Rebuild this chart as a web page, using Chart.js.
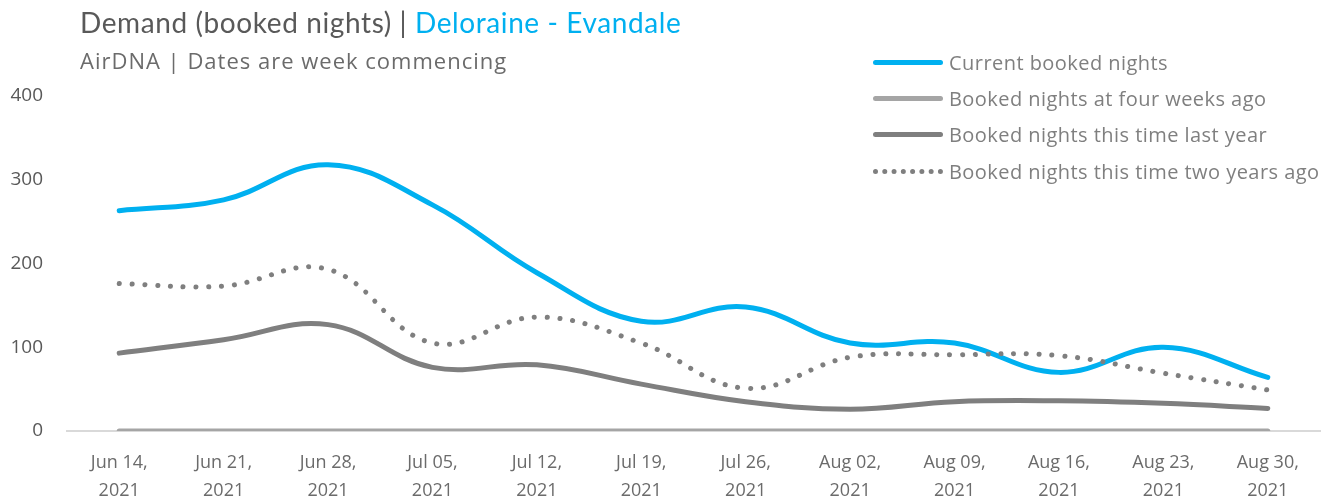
<!DOCTYPE html>
<html>
<head>
<meta charset="utf-8">
<script src="https://cdn.jsdelivr.net/npm/chart.js@4"></script>
<style>
  body { margin: 0; background: #fff; font-family: "Open Sans", Lato, sans-serif; }
  #wrap { position: relative; width: 1336px; height: 502px; }
  #title { position: absolute; left: 80px; top: 5px; font-family: Lato, sans-serif; font-size: 28px; color: #595959; letter-spacing: 0.6px; white-space: nowrap; }
  #title span { color: #00B0F0; }
  #sub { position: absolute; left: 80px; top: 45px; font-size: 22px; color: #6b6b6b; letter-spacing: 1px; white-space: nowrap; }
  #legend { position: absolute; left: 873px; top: 44px; }
  .item { height: 36.3px; display: flex; align-items: center; font-size: 20px; letter-spacing: 0.45px; color: #7f7f7f; white-space: nowrap; }
  .sw { width: 70px; height: 0; margin-right: 6px; border-top: 5px solid; border-radius: 3px; }
</style>
</head>
<body>
<div id="wrap">
  <canvas id="chart1" width="1336" height="502"></canvas>
  <div id="title">Demand (booked nights) | <span>Deloraine - Evandale</span></div>
  <div id="sub">AirDNA | Dates are week commencing</div>
  <div id="legend"></div>
</div>
<script>
const weeks = [['Jun 14,','2021'],['Jun 21,','2021'],['Jun 28,','2021'],['Jul 05,','2021'],['Jul 12,','2021'],['Jul 19,','2021'],
  ['Jul 26,','2021'],['Aug 02,','2021'],['Aug 09,','2021'],['Aug 16,','2021'],['Aug 23,','2021'],['Aug 30,','2021']];
const current = [263, 276, 318, 270, 189, 131, 148, 105, 105, 70, 100, 64];
const fourWeeksAgo = [0, 0, 0, 0, 0, 0, 0, 0, 0, 0, 0, 0];
const lastYear = [93, 109, 127, 76, 79, 56, 35, 26, 35, 36, 33, 27];
const twoYearsAgo = [176, 173, 193, 105, 136, 105, 51, 88, 91, 90, 69, 49];
const seriesNames = ['Current booked nights', 'Booked nights at four weeks ago', 'Booked nights this time last year', 'Booked nights this time two years ago'];
const yTicks = [0, 100, 200, 300, 400];

const colors = ['#00B0F0', '#A5A5A5', '#7F7F7F', '#7F7F7F'];

function ds(i, values, extra) {
    return Object.assign({
        label: seriesNames[i],
        data: values,
        borderColor: colors[i],
        borderWidth: 5,
        pointRadius: 0,
        tension: 0.4,
        fill: false,
        borderCapStyle: 'round'
    }, extra || {});
}

new Chart(document.getElementById('chart1'), {
    type: 'line',
    data: {
        labels: weeks,
        datasets: [
            ds(3, twoYearsAgo, { borderDash: [0.1, 12.7] }),
            ds(2, lastYear),
            ds(1, fourWeeksAgo, { tension: 0 }),
            ds(0, current)
        ]
    },
    options: {
        responsive: false,
        animation: false,
        layout: { padding: { left: 10, right: 16, top: 96, bottom: 0 } },
        plugins: { legend: { display: false }, tooltip: { enabled: false } },
        scales: {
            x: {
                offset: true,
                grid: { display: false, drawTicks: false },
                border: { display: true, color: '#D9D9D9', width: 2 },
                ticks: { color: '#6b6b6b', font: { family: 'Open Sans', size: 18, lineHeight: 1.55 }, padding: 18, maxRotation: 0, autoSkip: false },
                afterFit: s => { s.height = 71; }
            },
            y: {
                min: 0, max: 400,
                afterBuildTicks: s => { s.ticks = yTicks.map(v => ({ value: v })); },
                grid: { display: false, drawTicks: false },
                border: { display: false },
                ticks: { color: '#595959', font: { family: 'Open Sans', size: 19 }, padding: 24 },
                afterFit: s => { s.width = 57; }
            }
        }
    }
});

const leg = document.getElementById('legend');
[0, 1, 2, 3].forEach(i => {
    const row = document.createElement('div');
    row.className = 'item';
    const sw = document.createElement('div');
    sw.className = 'sw';
    sw.style.borderColor = colors[i];
    if (i === 3) { sw.style.borderTop = '5px dotted ' + colors[i]; sw.style.borderRadius = '0'; }
    row.appendChild(sw);
    row.appendChild(document.createTextNode(seriesNames[i]));
    leg.appendChild(row);
});
</script>
</body>
</html>
